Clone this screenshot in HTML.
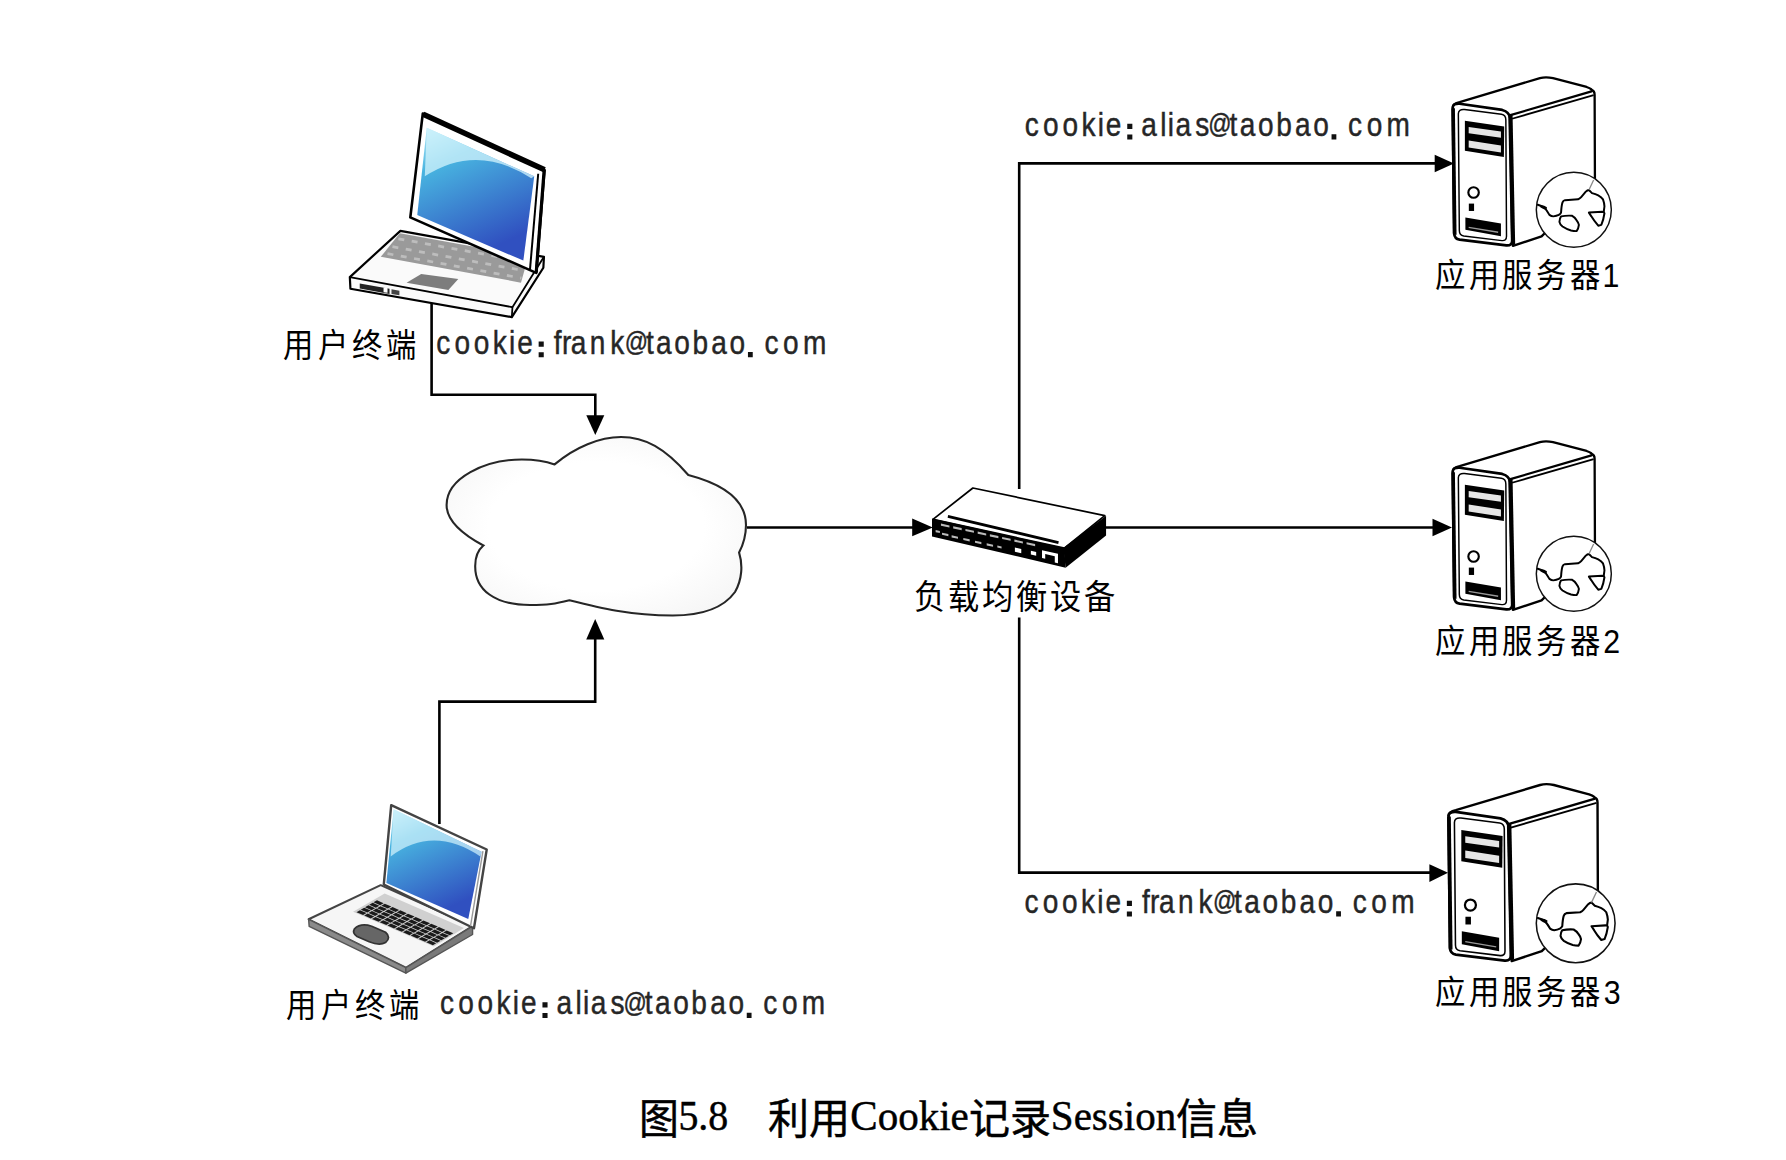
<!DOCTYPE html>
<html lang="zh-CN">
<head>
<meta charset="utf-8">
<style>
html,body{margin:0;padding:0;background:#fff;}
body{width:1786px;height:1160px;overflow:hidden;}
svg{display:block;}
.t{font-family:"Liberation Sans",sans-serif;fill:#262626;stroke:#262626;stroke-width:0.45px;}
.c{font-family:"Liberation Sans",sans-serif;fill:#000;}
.cap{font-family:"Liberation Serif",serif;fill:#000;stroke:#000;stroke-width:0.45px;}
</style>
</head>
<body>
<svg width="1786" height="1160" viewBox="0 0 1786 1160">
<defs>
  <linearGradient id="scr" x1="0" y1="0" x2="0.4" y2="1">
    <stop offset="0" stop-color="#bfeefa"/>
    <stop offset="0.3" stop-color="#48b4e0"/>
    <stop offset="1" stop-color="#3050c0"/>
  </linearGradient>
  <radialGradient id="cld" cx="0.5" cy="0.5" r="0.6">
    <stop offset="0.6" stop-color="#ffffff"/>
    <stop offset="1" stop-color="#f6f6f6"/>
  </radialGradient>
</defs>
<rect width="1786" height="1160" fill="#fff"/>

<!-- connector lines -->
<g fill="none" stroke="#000" stroke-width="2.6">
  <path d="M431.6,300 V394.7 H595.3 V416"/>
  <path d="M439.4,824 V701.6 H595.2 V638"/>
  <path d="M747,527.5 H914"/>
  <path d="M1019.2,489 V163.4 H1436"/>
  <path d="M1104,527.5 H1434"/>
  <path d="M1019.2,617.6 V872.6 H1430"/>
</g>
<g fill="#000">
  <polygon points="586.3,415.3 604.3,415.3 595.3,435"/>
  <polygon points="586.2,639.4 604.3,639.4 595.2,619"/>
  <polygon points="912.2,518.6 912.2,536.3 932.8,527.5"/>
  <polygon points="1434.7,154.7 1434.7,172.3 1454,163.4"/>
  <polygon points="1432.5,518.7 1432.5,536.3 1452,527.5"/>
  <polygon points="1429.4,864.2 1429.4,881.9 1448,872.7"/>
</g>

<!-- cloud -->
<path d="M554.6,464.4 C575,447 600,437 621,437 C645,437 665,448 688.3,475 C715,482 746,495 746,525 C746,537 742,547 739.1,552.6 C743,565 742,580 735,592 C722,610 700,615.5 672.8,615.5 C630,615.5 600,608 569.4,600.3 C555,604 548,605 530,605 C495,605 475,590 475.2,566 C475.2,558 478,550 483.4,545.5 C460,533 446.6,520 446.6,505 C446.6,478 485,459.5 521.9,459.5 C535,459.5 545,461 554.6,464.4 Z" fill="url(#cld)" stroke="#262626" stroke-width="2.1"/>


<!-- SERVER (zoom coords of [1440,430] @6.105) -->
<g id="srv2" transform="translate(1440,430) scale(0.1638)">
  <!-- side face -->
  <path d="M425,295 L925,148 Q945,150 944,180 L946,720 L620,1040 L445,1098 Z" fill="#fff" stroke="#000" stroke-width="14" stroke-linejoin="round"/>
  <!-- top face -->
  <path d="M78,252 Q80,228 120,220 L610,74 Q645,64 690,74 L895,128 Q935,142 925,155 L430,300 Q410,300 395,285 Q380,272 360,268 L100,240 Z" fill="#fff" stroke="#000" stroke-width="14" stroke-linejoin="round"/>
  <path d="M440,322 L938,178" fill="none" stroke="#000" stroke-width="11"/>
  <!-- front face -->
  <path d="M78,252 Q80,228 120,230 L380,268 Q425,280 428,320 L442,1060 Q442,1098 405,1095 L120,1060 Q88,1055 86,1020 Z" fill="#fff" stroke="#000" stroke-width="16" stroke-linejoin="round"/>
  <path d="M430,300 L446,1090" stroke="#000" stroke-width="26" fill="none"/>
  <path d="M80,258 L90,1030" stroke="#000" stroke-width="22" fill="none"/>
  <!-- inner panel -->
  <path d="M112,292 Q112,262 150,266 L375,295 Q402,300 402,330 L406,1040 Q406,1068 378,1066 L145,1038 Q118,1034 118,1005 Z" fill="none" stroke="#000" stroke-width="9"/>
  <!-- drive bays -->
  <path d="M152,335 L392,370 L390,555 L152,518 Z" fill="#000"/>
  <path d="M175,372 L372,400 L372,438 L175,410 Z" fill="#e6e6e6"/>
  <path d="M175,455 L372,485 L372,528 L175,498 Z" fill="#e6e6e6"/>
  <!-- power button -->
  <circle cx="205" cy="772" r="32" fill="#fff" stroke="#000" stroke-width="13"/>
  <rect x="176" y="840" width="32" height="45" fill="#000"/>
  <!-- bottom slot -->
  <path d="M155,925 L372,962 L372,1040 L155,1000 Z" fill="#000"/>
  <path d="M175,985 L355,1015" stroke="#999" stroke-width="8"/>
  <!-- globe -->
  <circle cx="817" cy="878" r="229" fill="#fff" stroke="#111" stroke-width="9"/>
  <path d="M597,847 Q620,855 635,862 Q655,885 668,909 Q680,918 692,918 Q712,916 725,909 Q736,902 739,895 Q742,850 748,833 Q752,822 763,819 L843,814 Q855,808 862,800 L890,767 Q900,758 909,757 Q920,768 928,776 Q950,782 966,790 Q985,800 995,814 Q1003,835 1004,857 L999,895" fill="none" stroke="#000" stroke-width="12" stroke-linejoin="round" stroke-linecap="round"/>
  <path d="M612,850 Q640,850 653,862 L650,880 Q625,872 612,862 Z" fill="#000"/>
  <path d="M739,918 Q770,912 805,914 Q825,925 834,942 Q845,955 848,970 Q845,995 834,1008 Q815,1008 800,1004 Q770,995 748,980 Q732,968 729,952 Q730,930 739,918 Z" fill="#fff" stroke="#000" stroke-width="12" stroke-linejoin="round"/>
  <path d="M909,895 L990,890 Q1003,892 1004,899 Q998,940 985,970 L966,975 Q940,945 924,918 Z" fill="#fff" stroke="#000" stroke-width="12" stroke-linejoin="round"/>
  <path d="M938,696 L909,757" fill="none" stroke="#888" stroke-width="8"/>
</g>
<use href="#srv2" transform="translate(0,-364)"/>
<use href="#srv2" transform="translate(1450.6,812.7) scale(1.05) translate(-1454.7,-468.5)"/>

<!-- SWITCH (zoom coords of [925,480] @9.4) -->
<g transform="translate(925,480) scale(0.10638)">
  <path d="M450,75 L1690,335 L1310,640 L75,370 Z" fill="#fff" stroke="#000" stroke-width="16" stroke-linejoin="round"/>
  <path d="M66,362 L1310,640 L1322,824 L66,532 Z" fill="#000"/>
  <path d="M1300,640 L1702,336 L1702,522 L1322,824 Z" fill="#000"/>
  <path d="M215,342 L1255,588" stroke="#000" stroke-width="26"/>
  <g fill="#bbb">
    <path d="M150,410 l80,17 l0,20 l-80,-17 Z"/><path d="M265,435 l80,17 l0,20 l-80,-17 Z"/>
    <path d="M380,460 l80,17 l0,20 l-80,-17 Z"/><path d="M495,485 l80,17 l0,20 l-80,-17 Z"/>
    <path d="M610,510 l80,17 l0,20 l-80,-17 Z"/><path d="M725,535 l80,17 l0,20 l-80,-17 Z"/>
    <path d="M840,560 l80,17 l0,20 l-80,-17 Z"/><path d="M955,585 l80,17 l0,20 l-80,-17 Z"/>
    <path d="M100,470 l40,9 l0,20 l-40,-9 Z"/><path d="M160,495 l60,13 l0,20 l-60,-13 Z"/>
    <path d="M250,520 l60,13 l0,20 l-60,-13 Z"/><path d="M360,545 l60,13 l0,20 l-60,-13 Z"/>
    <path d="M470,570 l60,13 l0,20 l-60,-13 Z"/><path d="M580,595 l60,13 l0,20 l-60,-13 Z"/>
    <path d="M680,615 l40,9 l0,20 l-40,-9 Z"/>
  </g>
  <g fill="#fff">
    <path d="M845,635 l60,13 l0,40 l-60,-13 Z"/><path d="M995,665 l50,11 l0,35 l-50,-11 Z"/>
    <path d="M1100,660 l150,33 l0,90 l-30,-7 l0,-60 l-90,-20 l0,45 l-30,-7 Z"/>
  </g>
</g>

<!-- LAPTOP 1 (zoom coords of [330,100] @5.043) -->
<g transform="translate(330,100) scale(0.19829)">
  <!-- base -->
  <path d="M355,660 L1079,791 L1076,846 L917,1095 L103,952 L100,893 Z" fill="#fafafa" stroke="#000" stroke-width="11" stroke-linejoin="round"/>
  <path d="M100,893 L920,1045 L1079,791" fill="none" stroke="#000" stroke-width="9"/>
  <path d="M920,1045 L917,1095" stroke="#000" stroke-width="9"/>
  <path d="M150,925 L300,952 L300,978 L150,950 Z" fill="#222"/>
  <path d="M270,945 L290,948 L290,972 L270,969 Z" fill="#fff"/>
  <path d="M310,955 L350,962 L350,985 L310,978 Z" fill="#444"/>
  <path d="M352,672 L1000,790 L963,921 L256,791 Z" fill="#9a9a9a"/>
  <g stroke="#bdbdbd" stroke-width="14" stroke-dasharray="30 38">
    <path d="M345,700 L985,815"/><path d="M315,740 L975,860"/><path d="M290,775 L965,898"/>
  </g>
  <path d="M460,877 L647,903 L597,958 L386,921 Z" fill="#7d7d7d"/>
  <!-- lid -->
  <path d="M468,68 L1082,352 L1040,872 L405,592 Z" fill="#fff" stroke="#000" stroke-width="13" stroke-linejoin="round"/>
  <path d="M1050,372 L1008,862" stroke="#000" stroke-width="10"/>
  <path d="M1080,352 L1040,870" stroke="#000" stroke-width="16"/>
  <path d="M488,140 L1030,385 L975,810 L440,580 Z" fill="url(#scr)"/>
  <path d="M488,140 L1030,385 L1015,395 Q740,215 478,385 Z" fill="#d4f4fc" opacity="0.75"/>
  <path d="M470,72 L1082,352" stroke="#000" stroke-width="28"/>
</g>

<!-- LAPTOP 2 (zoom coords of [295,790] @5.8) -->
<g transform="translate(295,790) scale(0.17241)">
  <path d="M497,552 L1030,790 L643,1031 L79,750 Z" fill="#f6f6f6" stroke="#444" stroke-width="12" stroke-linejoin="round"/>
  <path d="M79,750 L82,791 L643,1062 L643,1031 Z" fill="#8a8a8a" stroke="#555" stroke-width="8" stroke-linejoin="round"/>
  <path d="M643,1031 L1030,790 L1030,838 L643,1062 Z" fill="#7a7a7a" stroke="#555" stroke-width="8" stroke-linejoin="round"/>
  <path d="M337,706 L805,908 L980,800 L520,600 Z" fill="#d0d0d0"/>
  <g transform="matrix(468,202,183,-106,337,706)" fill="#1a1a1a"><rect x="0.030" y="0.030" width="0.082" height="0.11"/><rect x="0.126" y="0.030" width="0.082" height="0.11"/><rect x="0.222" y="0.030" width="0.082" height="0.11"/><rect x="0.318" y="0.030" width="0.082" height="0.11"/><rect x="0.414" y="0.030" width="0.082" height="0.11"/><rect x="0.510" y="0.030" width="0.082" height="0.11"/><rect x="0.606" y="0.030" width="0.082" height="0.11"/><rect x="0.702" y="0.030" width="0.082" height="0.11"/><rect x="0.798" y="0.030" width="0.082" height="0.11"/><rect x="0.894" y="0.030" width="0.082" height="0.11"/><rect x="0.030" y="0.165" width="0.082" height="0.11"/><rect x="0.126" y="0.165" width="0.082" height="0.11"/><rect x="0.222" y="0.165" width="0.082" height="0.11"/><rect x="0.318" y="0.165" width="0.082" height="0.11"/><rect x="0.414" y="0.165" width="0.082" height="0.11"/><rect x="0.510" y="0.165" width="0.082" height="0.11"/><rect x="0.606" y="0.165" width="0.082" height="0.11"/><rect x="0.702" y="0.165" width="0.082" height="0.11"/><rect x="0.798" y="0.165" width="0.082" height="0.11"/><rect x="0.894" y="0.165" width="0.082" height="0.11"/><rect x="0.030" y="0.300" width="0.082" height="0.11"/><rect x="0.126" y="0.300" width="0.082" height="0.11"/><rect x="0.222" y="0.300" width="0.082" height="0.11"/><rect x="0.318" y="0.300" width="0.082" height="0.11"/><rect x="0.414" y="0.300" width="0.082" height="0.11"/><rect x="0.510" y="0.300" width="0.082" height="0.11"/><rect x="0.606" y="0.300" width="0.082" height="0.11"/><rect x="0.702" y="0.300" width="0.082" height="0.11"/><rect x="0.798" y="0.300" width="0.082" height="0.11"/><rect x="0.894" y="0.300" width="0.082" height="0.11"/><rect x="0.030" y="0.435" width="0.082" height="0.11"/><rect x="0.126" y="0.435" width="0.082" height="0.11"/><rect x="0.222" y="0.435" width="0.082" height="0.11"/><rect x="0.318" y="0.435" width="0.082" height="0.11"/><rect x="0.414" y="0.435" width="0.082" height="0.11"/><rect x="0.510" y="0.435" width="0.082" height="0.11"/><rect x="0.606" y="0.435" width="0.082" height="0.11"/><rect x="0.702" y="0.435" width="0.082" height="0.11"/><rect x="0.798" y="0.435" width="0.082" height="0.11"/><rect x="0.894" y="0.435" width="0.082" height="0.11"/><rect x="0.030" y="0.570" width="0.082" height="0.11"/><rect x="0.126" y="0.570" width="0.082" height="0.11"/><rect x="0.222" y="0.570" width="0.082" height="0.11"/><rect x="0.318" y="0.570" width="0.082" height="0.11"/><rect x="0.414" y="0.570" width="0.082" height="0.11"/><rect x="0.510" y="0.570" width="0.082" height="0.11"/><rect x="0.606" y="0.570" width="0.082" height="0.11"/><rect x="0.702" y="0.570" width="0.082" height="0.11"/><rect x="0.798" y="0.570" width="0.082" height="0.11"/><rect x="0.894" y="0.570" width="0.082" height="0.11"/></g>
  <path d="M345,805 Q380,770 445,790 L525,825 Q560,855 525,885 Q490,905 430,880 L360,850 Q330,830 345,805 Z" fill="#666" stroke="#333" stroke-width="10"/>
  <path d="M558,88 L1112,345 L1038,802 L515,548 Z" fill="#fff" stroke="#444" stroke-width="14" stroke-linejoin="round"/>
  <path d="M1090,355 L1018,790" stroke="#999" stroke-width="8"/>
  <path d="M572,112 L1082,358 L1005,748 L530,540 Z" fill="url(#scr)"/>
  <path d="M572,112 L1082,358 L1075,385 Q800,200 555,385 Z" fill="#d4f4fc" opacity="0.7"/>
</g>

<!-- TEXT -->
<text class="t" transform="scale(0.85,1)" y="353.7" font-size="33" text-anchor="middle" x="521.41 543.88 566.59 588.00 602.59 617.65 656.00 666.59 680.71 703.06 726.24 764.47 781.06 802.53 823.94 846.06 867.53 907.65 930.47 958.47">cookiefranktaobaocom</text>
<text class="t" transform="scale(0.85,1)" y="351.2" font-size="27" stroke="#262626" stroke-width="0.3" text-anchor="middle" x="748.71">@</text>
<path fill="#111" d="M538.65,341.60h5.1v5.1h-5.1z M538.65,352.20h5.1v5.1h-5.1z M747.95,352.00h4.8v5.2h-4.8z"/>
<text class="t" transform="scale(0.85,1)" y="135.9" font-size="33" text-anchor="middle" x="1213.88 1236.35 1259.06 1280.47 1295.06 1310.12 1351.76 1368.59 1377.41 1392.12 1414.47 1451.06 1467.65 1489.12 1510.53 1532.65 1554.12 1594.24 1617.06 1645.06">cookiealiastaobaocom</text>
<text class="t" transform="scale(0.85,1)" y="133.4" font-size="27" stroke="#262626" stroke-width="0.3" text-anchor="middle" x="1435.29">@</text>
<path fill="#111" d="M1127.25,123.80h5.1v5.1h-5.1z M1127.25,134.40h5.1v5.1h-5.1z M1331.55,134.20h4.8v5.2h-4.8z"/>
<text class="t" transform="scale(0.85,1)" y="1014.4" font-size="33" text-anchor="middle" x="525.88 548.35 571.06 592.47 607.06 622.12 663.76 680.59 689.41 704.12 726.47 763.06 779.65 801.12 822.53 844.65 866.12 906.24 929.06 957.06">cookiealiastaobaocom</text>
<text class="t" transform="scale(0.85,1)" y="1011.9" font-size="27" stroke="#262626" stroke-width="0.3" text-anchor="middle" x="747.29">@</text>
<path fill="#111" d="M542.45,1002.30h5.1v5.1h-5.1z M542.45,1012.90h5.1v5.1h-5.1z M746.75,1012.70h4.8v5.2h-4.8z"/>
<text class="t" transform="scale(0.85,1)" y="912.9" font-size="33" text-anchor="middle" x="1213.41 1235.88 1258.59 1280.00 1294.59 1309.65 1348.00 1358.59 1372.71 1395.06 1418.24 1456.47 1473.06 1494.53 1515.94 1538.06 1559.53 1599.65 1622.47 1650.47">cookiefranktaobaocom</text>
<text class="t" transform="scale(0.85,1)" y="910.4" font-size="27" stroke="#262626" stroke-width="0.3" text-anchor="middle" x="1440.71">@</text>
<path fill="#111" d="M1126.85,900.80h5.1v5.1h-5.1z M1126.85,911.40h5.1v5.1h-5.1z M1336.15,911.20h4.8v5.2h-4.8z"/>







<text class="c" transform="scale(0.92,1)" y="357.4" font-size="33" text-anchor="middle" x="324.24 362.17 399.35 436.52">用户终端</text>
<text class="c" transform="scale(0.92,1)" y="1017.4" font-size="33" text-anchor="middle" x="327.28 365.22 402.39 439.57">用户终端</text>
<text class="c" transform="scale(0.92,1)" y="609.5" font-size="34" text-anchor="middle" x="1010.43 1047.39 1084.35 1121.30 1158.26 1195.22">负载均衡设备</text>
<text class="c" transform="scale(0.92,1)" y="286.8" font-size="33" text-anchor="middle" x="1576.63 1613.15 1649.67 1686.20 1722.72 1751.09">应用服务器1</text>
<text class="c" transform="scale(0.92,1)" y="652.6" font-size="33" text-anchor="middle" x="1576.63 1613.15 1649.67 1686.20 1722.72 1751.96">应用服务器2</text>
<text class="c" transform="scale(0.92,1)" y="1004.2" font-size="33" text-anchor="middle" x="1576.63 1613.15 1649.67 1686.20 1722.72 1752.50">应用服务器3</text>
<text class="cap" x="638.5" y="1134" font-size="42" textLength="89.8" lengthAdjust="spacingAndGlyphs">图<tspan dy="-4">5.8</tspan></text>
<text class="cap" x="768.3" y="1134" font-size="42" textLength="489.9" lengthAdjust="spacingAndGlyphs">利用<tspan dy="-4">Cookie</tspan><tspan dy="4">记录</tspan><tspan dy="-4">Session</tspan><tspan dy="4">信息</tspan></text>
</svg>
</body>
</html>
